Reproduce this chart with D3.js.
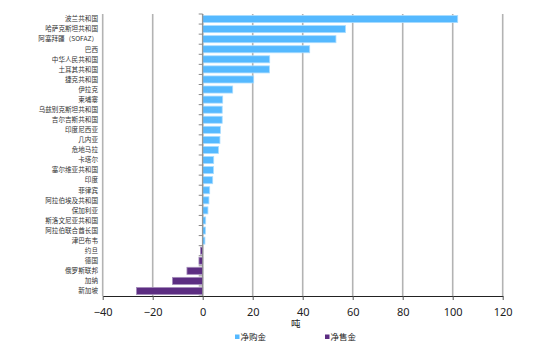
<!DOCTYPE html>
<html><head><meta charset="utf-8">
<script src="https://cdn.jsdelivr.net/npm/d3@7"></script>
<style>body{margin:0;background:#fff;}svg{display:block;font-family:"Noto Sans CJK SC","Noto Sans",sans-serif;}</style>
</head><body><svg id="c" width="550" height="364"></svg>
<script>
const categories = ["波兰共和国","哈萨克斯坦共和国","阿塞拜疆（SOFAZ）","巴西","中华人民共和国","土耳其共和国","捷克共和国","伊拉克","柬埔寨","乌兹别克斯坦共和国","吉尔吉斯共和国","印度尼西亚","几内亚","危地马拉","卡塔尔","塞尔维亚共和国","印度","菲律宾","阿拉伯埃及共和国","保加利亚","斯洛文尼亚共和国","阿拉伯联合酋长国","津巴布韦","约旦","德国","俄罗斯联邦","加纳","新加坡"];
const values = [102,57.1,53.3,42.8,26.8,26.7,20.4,12,8,7.8,7.8,7.1,6.9,6.3,4.4,4.3,4.0,2.8,2.5,2.1,1.2,1.1,0.9,-0.9,-1.5,-6.3,-12.1,-26.5];
const xTicks = [-40,-20,0,20,40,60,80,100,120];
const seriesNames = ["净购金","净售金"];
const colors = {"净购金":"#55b9ff","净售金":"#5c2d82"};
const strokes = {"净购金":"#a9dcff","净售金":"#a58dbb"};

const svg = d3.select("#c");
const L=102.7, R=502.7, T=14, B=296;
const x = d3.scaleLinear().domain([-40,120]).range([L,R]);
const y = d3.scaleBand().domain(categories).range([T,B]).paddingInner(0.3).paddingOuter(0.15);

// gridlines
svg.append("g").selectAll("line").data(xTicks).join("line")
  .attr("x1",d=>x(d)).attr("x2",d=>x(d)).attr("y1",T).attr("y2",B)
  .attr("stroke","#b3b3b3").attr("stroke-width",1.6);

// bars
svg.append("g").selectAll("rect").data(categories).join("rect")
  .attr("x",(d,i)=>x(Math.min(0,values[i])))
  .attr("width",(d,i)=>Math.abs(x(values[i])-x(0)))
  .attr("y",d=>y(d)).attr("height",y.bandwidth())
  .attr("fill",(d,i)=>values[i]>=0?colors["净购金"]:colors["净售金"])
  .attr("stroke",(d,i)=>values[i]>=0?strokes["净购金"]:strokes["净售金"])
  .attr("stroke-width",0.8);

// category axis at zero
const step = (B-T)/categories.length;
const ca = svg.append("g");
ca.append("line").attr("x1",x(0)).attr("x2",x(0)).attr("y1",T).attr("y2",B).attr("stroke","#8c8c8c").attr("stroke-width",1);
ca.selectAll("line.t").data(d3.range(categories.length+1)).join("line").attr("class","t")
  .attr("x1",x(0)-4).attr("x2",x(0)).attr("y1",i=>T+i*step).attr("y2",i=>T+i*step)
  .attr("stroke","#8c8c8c").attr("stroke-width",1);

// category labels
svg.append("g").selectAll("text").data(categories).join("text")
  .attr("x",98).attr("y",d=>T+ (categories.indexOf(d)+0.5)*step)
  .attr("dy","0.35em").attr("text-anchor","end")
  .attr("font-size",6.6).attr("fill","#333").text(d=>d);

// bottom axis
const xa = svg.append("g").attr("transform",`translate(0,${B})`)
  .call(d3.axisBottom(x).tickValues(xTicks).tickSize(4).tickSizeOuter(0).tickPadding(8));
xa.select(".domain").attr("stroke","#222").attr("stroke-width",1.2);
xa.selectAll(".tick line").attr("stroke","#555");
xa.selectAll("text").attr("font-size",11).attr("fill","#222").attr("font-family","Noto Sans, sans-serif");

svg.append("text").attr("x",x(0)+ (x(40)-x(0))*0.9+3).attr("y",327).attr("text-anchor","middle")
  .attr("font-size",9.5).attr("fill","#222").text("吨");

// legend
const lg = svg.append("g");
const legX = [235,325];
seriesNames.forEach((s,i)=>{
  lg.append("rect").attr("x",legX[i]).attr("y",334.5).attr("width",4.5).attr("height",4.5).attr("fill",colors[s]);
  lg.append("text").attr("x",legX[i]+5.5).attr("y",337).attr("dy","0.35em").attr("font-size",8.5).attr("fill","#222").text(s);
});
</script></body></html>
